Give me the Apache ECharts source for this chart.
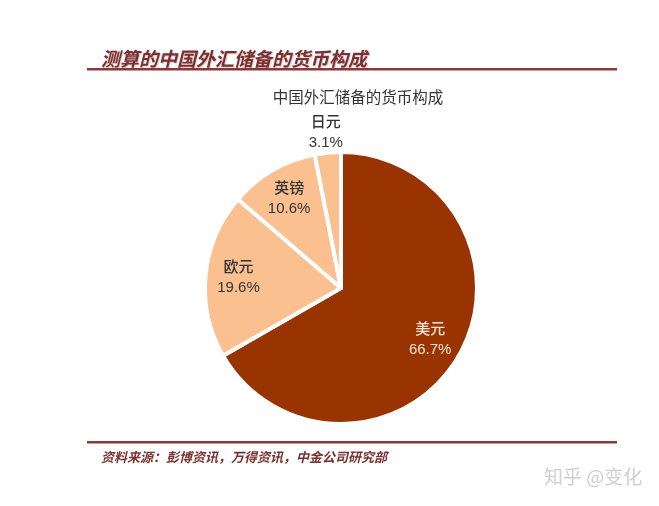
<!DOCTYPE html>
<html>
<head>
<meta charset="utf-8">
<script src="https://cdn.jsdelivr.net/npm/echarts@6/dist/echarts.min.js"></script>
<style>html,body{margin:0;padding:0;background:#fff;}#c{width:659px;height:506px;}</style>
</head>
<body>
<div id="c"></div>
<script>
const categories = ['美元', '欧元', '英镑', '日元'];
const shares = [66.7, 19.6, 10.6, 3.1];
const sliceColors = ['#993300', '#FAC090', '#FAC090', '#FAC090'];
const headerTitle = '测算的中国外汇储备的货币构成';
const chartTitle = '中国外汇储备的货币构成';
const sourceNote = '资料来源：彭博资讯，万得资讯，中金公司研究部';
const watermark = '知乎 @变化';

const CJK = '"Noto Sans CJK SC", "Liberation Sans", sans-serif';
const MIX = '"Liberation Sans", "Noto Sans CJK SC", sans-serif';
const center = [341, 288];

const baseData = categories.map((n, i) => ({ name: n, value: shares[i] }));

const labelStyle = { show: true, position: 'inside', formatter: '{b}\n{c}%', fontFamily: MIX,
  fontSize: 15, lineHeight: 20, color: '#333333', fontWeight: 500 };

const chart = echarts.init(document.getElementById('c'), null, { renderer: 'canvas' });
chart.setOption({
  backgroundColor: '#ffffff',
  animation: false,
  title: [
    { text: headerTitle, left: 96, top: 44,
      textStyle: { fontFamily: CJK, fontSize: 19, fontStyle: 'italic', fontWeight: 'bold', color: '#7a3030',
        textShadowColor: 'rgba(120,40,40,0.25)', textShadowBlur: 1, textShadowOffsetX: 1, textShadowOffsetY: 1 } },
    { text: chartTitle, left: 353, top: 84, textAlign: 'center',
      textStyle: { fontFamily: CJK, fontSize: 15.5, fontWeight: 'normal', color: '#333333' } },
    { text: sourceNote, left: 96, top: 446,
      textStyle: { fontFamily: CJK, fontSize: 13, fontStyle: 'italic', fontWeight: 'bold', color: '#7a3030' } },
    { text: watermark, left: 539, top: 462,
      textStyle: { fontFamily: CJK, fontSize: 19, fontWeight: 'normal', color: '#cfcfcf' } }
  ],
  graphic: [
    { type: 'rect', shape: { x: 87, y: 68, width: 530, height: 2.5 }, style: { fill: '#8a3a3a' } },
    { type: 'rect', shape: { x: 87, y: 441, width: 530, height: 2.5 }, style: { fill: '#8a3a3a' } }
  ],
  series: [
    {
      type: 'pie', center: center, radius: [0, 136], startAngle: 90, clockwise: true,
      silent: true,
      itemStyle: { borderColor: '#ffffff', borderWidth: 4 },
      label: { show: false }, labelLine: { show: false },
      data: baseData.map((d, i) => ({ ...d, itemStyle: { color: sliceColors[i] } }))
    },
    {
      type: 'pie', center: center, radius: [60, 140], startAngle: 90, clockwise: true,
      silent: true,
      itemStyle: { color: 'rgba(0,0,0,0)' },
      labelLine: { show: false },
      label: labelStyle,
      data: baseData.map((d, i) => ({ ...d,
        label: i === 0 ? { color: '#f7e4d6' } : (i === 3 ? { show: false } : {}) }))
    },
    {
      type: 'pie', center: center, radius: [133, 173], startAngle: 90, clockwise: true,
      silent: true,
      itemStyle: { color: 'rgba(0,0,0,0)' },
      labelLine: { show: false },
      label: labelStyle,
      data: baseData.map((d, i) => ({ ...d, label: { show: i === 3 } }))
    }
  ]
});
</script>
</body>
</html>
